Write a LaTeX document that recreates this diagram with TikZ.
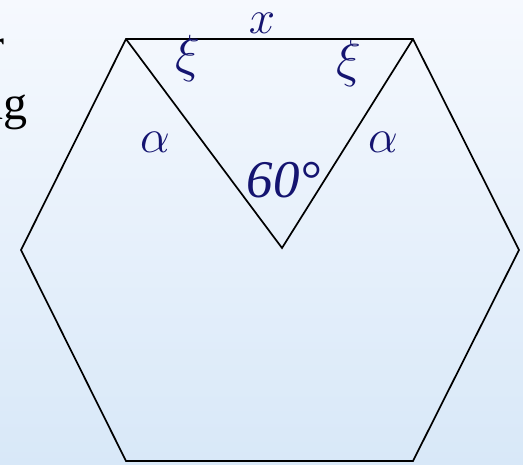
\documentclass[tikz,border=0pt]{standalone}
\usepackage{fontspec}
\setmainfont{Liberation Serif}[ItalicFont={Liberation Serif Italic}]
\definecolor{bgtop}{RGB}{246,249,254}
\definecolor{bgbot}{RGB}{216,232,248}
\definecolor{lbl}{RGB}{20,20,112}
\newcommand{\biglbl}[2]{\scalebox{#1}{$#2$}}
\begin{document}
\begin{tikzpicture}[x=1pt,y=-1pt,
  edge/.style={line width=1.7pt,line join=miter,black},
  lab/.style={text=lbl,font=\fontsize{24.88}{28}\selectfont,inner sep=0pt},
  numlab/.style={lab,font=\fontsize{53}{57}\selectfont\itshape},
  frag/.style={text=black,font=\fontsize{48}{56}\selectfont,inner sep=0pt,anchor=base east}]
\useasboundingbox (0,0) rectangle (523,465);
\clip (0,0) rectangle (523,465);
\shade[top color=bgtop,bottom color=bgbot] (0,0) rectangle (523,465);
% clipped text fragments at left
\node[frag] (f1) at (5,62) {r};
\node[frag] (f2) at (28,120) {ng};
% hexagon
\coordinate (tl) at (126,39);
\coordinate (tr) at (413,39);
\coordinate (r) at (519,250);
\coordinate (br) at (413,461);
\coordinate (bl) at (126,461);
\coordinate (l) at (21,250);
\coordinate (v) at (282,248);
\draw[edge] (tl) -- (tr) -- (r) -- (br) -- (bl) -- (l) -- cycle;
\draw[edge] (tl) -- (v) -- (tr);
% labels
\node[lab] (lx) at (262,23) {\biglbl{1.9}{x}};
\node[lab] (lxi1) at (188,58) {\biglbl{2.1}{\xi}};
\node[lab] (lxi2) at (349,63) {\biglbl{2.1}{\xi}};
\node[lab] (la1) at (155,142) {\biglbl{1.9}{\alpha}};
\node[lab] (la2) at (383,142) {\biglbl{1.9}{\alpha}};
\node[numlab] (l60) at (284,180) {60°};
\end{tikzpicture}
\end{document}
